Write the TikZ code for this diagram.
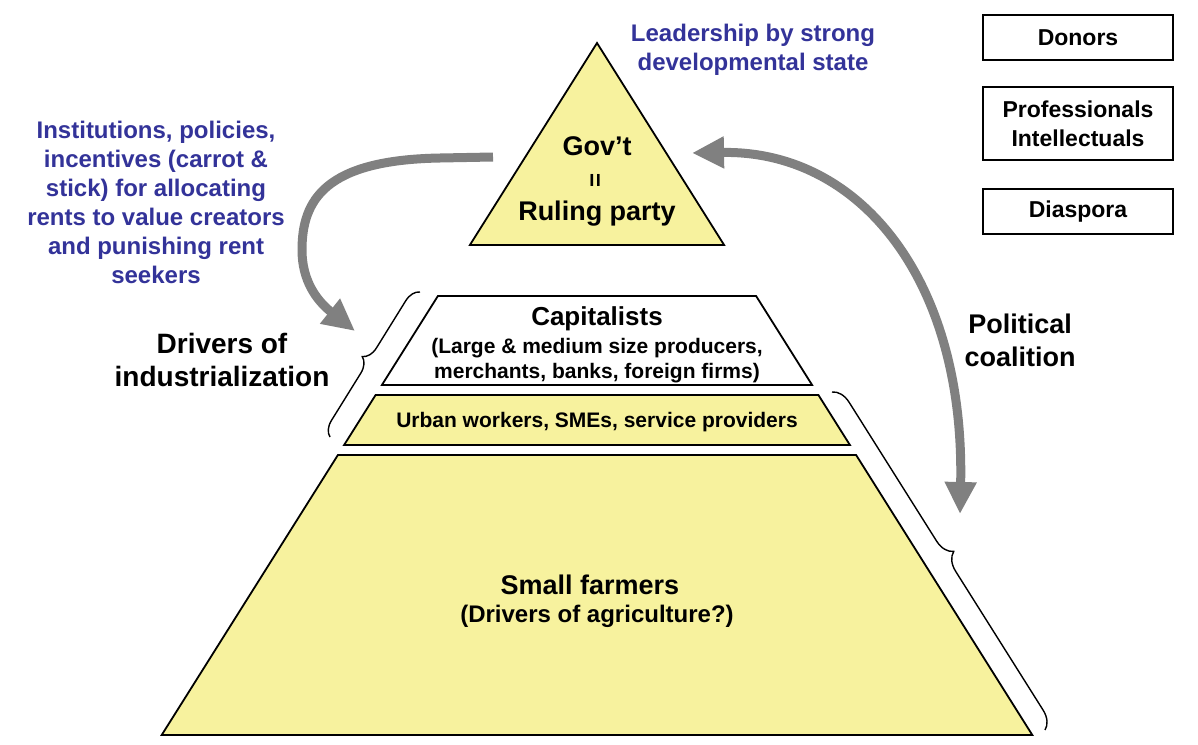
\documentclass[tikz,border=0pt]{standalone}
\usepackage{fontspec}
\setmainfont{Liberation Sans}
\usetikzlibrary{arrows.meta,decorations.pathreplacing,positioning}

\definecolor{tierfill}{RGB}{247,242,158}
\definecolor{noteblue}{RGB}{51,51,153}
\definecolor{arrowgray}{RGB}{128,128,128}

\tikzset{fat/.tip={Triangle[length=32pt,width=30pt]}}

\begin{document}
\begin{tikzpicture}[x=1pt,y=-1pt,
    tier/.style={draw, line width=1.8pt},
    lbl/.style={font=\bfseries\fontsize{27}{33}\selectfont, align=center, inner sep=0pt},
    sublbl/.style={font=\bfseries\fontsize{21}{25}\selectfont, align=center, inner sep=0pt},
    note/.style={font=\bfseries\fontsize{24}{29}\selectfont, align=center, text=noteblue, inner sep=0pt},
    actor/.style={draw, line width=1.8pt, font=\bfseries\fontsize{23}{29}\selectfont,
                  align=center, minimum width=190pt, inner sep=0pt},
    bigarrow/.style={draw=arrowgray, line width=9pt},
    bracket/.style={draw, line width=1.4pt, decorate, decoration={brace, amplitude=15pt}}]

\useasboundingbox[fill=white] (0,0) rectangle (1198,744);

% pyramid, all tiers on the same two slanted sides
\draw[tier, fill=tierfill] (597,43) -- (724.1,245) -- (469.9,245) -- cycle;
\draw[tier, fill=white] (437.9,296) -- (756.1,296) -- (812.1,385) -- (381.9,385) -- cycle;
\draw[tier, fill=tierfill] (375.6,395) -- (818.4,395) -- (849.9,445) -- (344.1,445) -- cycle;
\draw[tier, fill=tierfill] (337.9,455) -- (856.1,455) -- (1032.3,735) -- (161.7,735) -- cycle;

% texts inside the tiers
\node[lbl] (gov) at (597,146) {Gov’t};
\node[lbl, rotate=90, font=\bfseries\fontsize{24}{24}\selectfont] (eq) at (597,180) {=};
\node[lbl] (ruling) at (597,214) {Ruling party};
\node[lbl, font=\bfseries\fontsize{26}{31}\selectfont] (cap) at (597,319) {Capitalists};
\node[sublbl] (capsub) at (597,361) {(Large \& medium size producers,\\merchants, banks, foreign firms)};
\node[sublbl] (urban) at (597,422) {Urban workers, SMEs, service providers};
\node[lbl] (farm) at (590,585) {Small farmers};
\node[sublbl, font=\bfseries\fontsize{24}{28}\selectfont] (farmsub) at (597,616) {(Drivers of agriculture?)};

% side labels
\node[note] (lead) at (753,50) {Leadership by strong\\developmental state};
\node[note] (tools) at (156,202) {Institutions, policies,\\incentives (carrot \&\\stick) for allocating\\rents to value creators\\and punishing rent\\seekers};
\node[lbl, font=\bfseries\fontsize{28}{33}\selectfont] (drivers) at (222,360) {Drivers of\\industrialization};
\node[lbl] (coal) at (1020,340) {Political\\coalition};

% outside actors
\node[actor, minimum height=45pt] (donors) at (1078,37.5) {Donors};
\node[actor, minimum height=73pt, below=25pt of donors] (prof) {Professionals\\Intellectuals};
\node[actor, minimum height=45pt, below=27pt of prof] (diaspora) {Diaspora};

% braces
\coordinate (indLo) at (330,437);
\coordinate (indHi) at (420,292);
\draw[bracket] (indLo) -- (indHi);
\coordinate (coalHi) at (832,392);
\coordinate (coalLo) at (1045,730);
\draw[bracket, decoration={amplitude=18pt}] (coalHi) -- (coalLo);

% gray arrows
\coordinate (rentFrom) at (493,157);
\coordinate (rentTo) at (355,331);
\draw[bigarrow, -fat] (rentFrom) -- (440,158) .. controls (325,160) and (302,200) .. (302,250)
    .. controls (302,280) and (316,300) .. (rentTo);
\coordinate (coalTop) at (692,153);
\coordinate (coalBot) at (960,514);
\draw[bigarrow, fat-fat] (coalTop) .. controls (860,150) and (965,280) .. (coalBot);

\end{tikzpicture}
\end{document}
